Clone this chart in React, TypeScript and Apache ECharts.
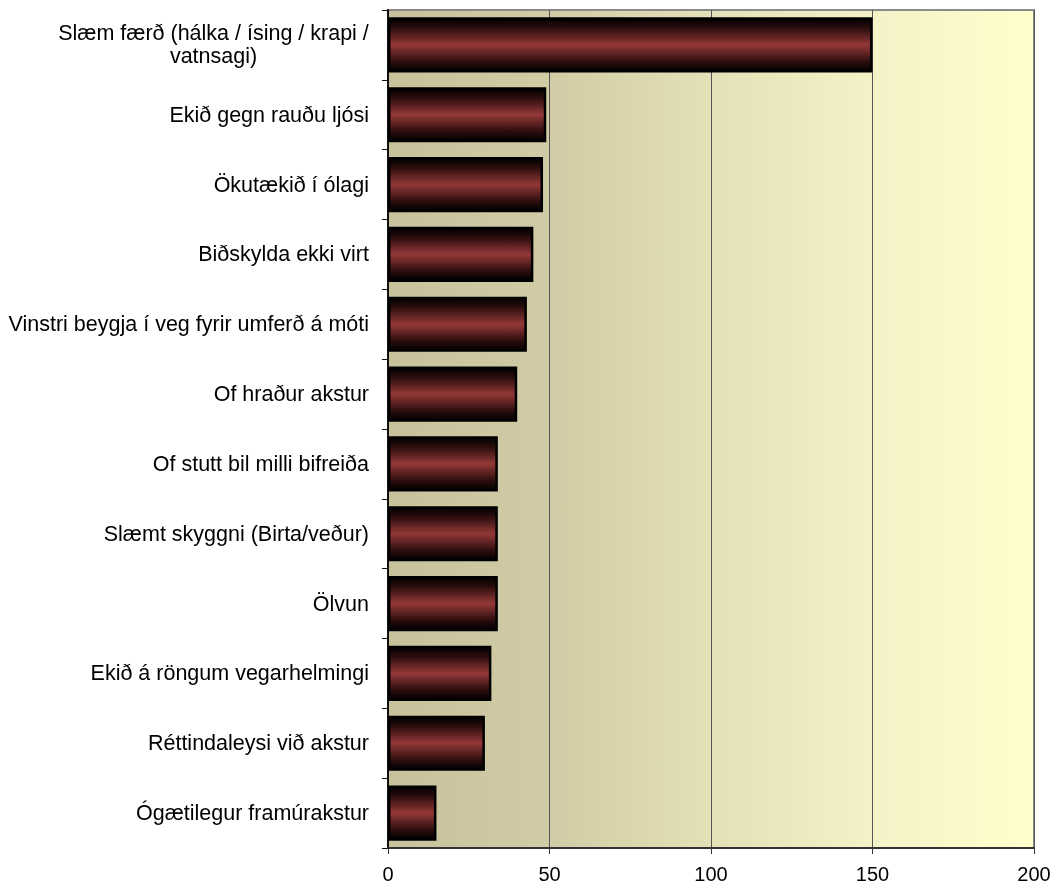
import React, { useEffect, useRef } from "react";
import * as echarts from "echarts";

const categories = [
  "Slæm færð (hálka / ísing / krapi / vatnsagi)",
  "Ekið gegn rauðu ljósi",
  "Ökutækið í ólagi",
  "Biðskylda ekki virt",
  "Vinstri beygja í veg fyrir umferð á móti",
  "Of hraður akstur",
  "Of stutt bil milli bifreiða",
  "Slæmt skyggni (Birta/veður)",
  "Ölvun",
  "Ekið á röngum vegarhelmingi",
  "Réttindaleysi við akstur",
  "Ógætilegur framúrakstur",
];
const values = [150, 49, 48, 45, 43, 40, 34, 34, 34, 32, 30, 15];

export default function App() {
  const ref = useRef<HTMLDivElement>(null);
  useEffect(() => {
    if (!ref.current) return;
    const chart = echarts.init(ref.current, null, { renderer: "svg" });
    const font = "Arial, 'Liberation Sans', sans-serif";
    chart.setOption({
      animation: false,
      grid: {
        left: 388,
        right: 22,
        top: 10,
        bottom: 35,
        show: true,
        borderColor: "#8a8a8a",
        borderWidth: 2,
        backgroundColor: new echarts.graphic.LinearGradient(0, 0, 1, 0, [
          { offset: 0, color: "#C8C29C" },
          { offset: 0.25, color: "#D1CCA5" },
          { offset: 0.5, color: "#E4E0B7" },
          { offset: 0.75, color: "#F4F2C7" },
          { offset: 1, color: "#FFFFCC" },
        ]),
      },
      xAxis: {
        type: "value",
        min: 0,
        max: 200,
        interval: 50,
        axisLine: { show: true, lineStyle: { color: "#333", width: 2 } },
        axisTick: { show: true, length: 6, lineStyle: { color: "#333" } },
        axisLabel: { color: "#000", fontSize: 20, fontFamily: font, margin: 16 },
        splitLine: { show: true, lineStyle: { color: "#555", width: 1 } },
      },
      yAxis: {
        type: "category",
        inverse: true,
        data: categories,
        axisLine: { show: true, lineStyle: { color: "#111", width: 2 } },
        axisTick: { show: true, length: 6, lineStyle: { color: "#111" } },
        axisLabel: {
          color: "#000",
          fontSize: 21.5,
          fontFamily: font,
          margin: 19,
          lineHeight: 23,
          formatter: (v: string) => {
            if (v === categories[0]) {
              return "{c|Slæm færð (hálka / ísing / krapi /}\n{c|vatnsagi)}";
            }
            return v;
          },
          rich: {
            c: {
              width: 311,
              align: "center",
              fontSize: 21.5,
              fontFamily: font,
              color: "#000",
              lineHeight: 23,
            },
          },
        },
      },
      series: [
        {
          type: "bar",
          data: values,
          barCategoryGap: "21%",
          itemStyle: {
            borderColor: "#000",
            borderWidth: 2.5,
            color: new echarts.graphic.LinearGradient(0, 0, 0, 1, [
              { offset: 0, color: "#000000" },
              { offset: 0.18, color: "#2c0d0d" },
              { offset: 0.5, color: "#933838" },
              { offset: 0.82, color: "#2c0d0d" },
              { offset: 1, color: "#000000" },
            ]),
          },
        },
      ],
    });
    return () => chart.dispose();
  }, []);
  return (
    <div
      ref={ref}
      style={{ position: "fixed", left: 0, top: 0, width: 1056, height: 884 }}
    />
  );
}
